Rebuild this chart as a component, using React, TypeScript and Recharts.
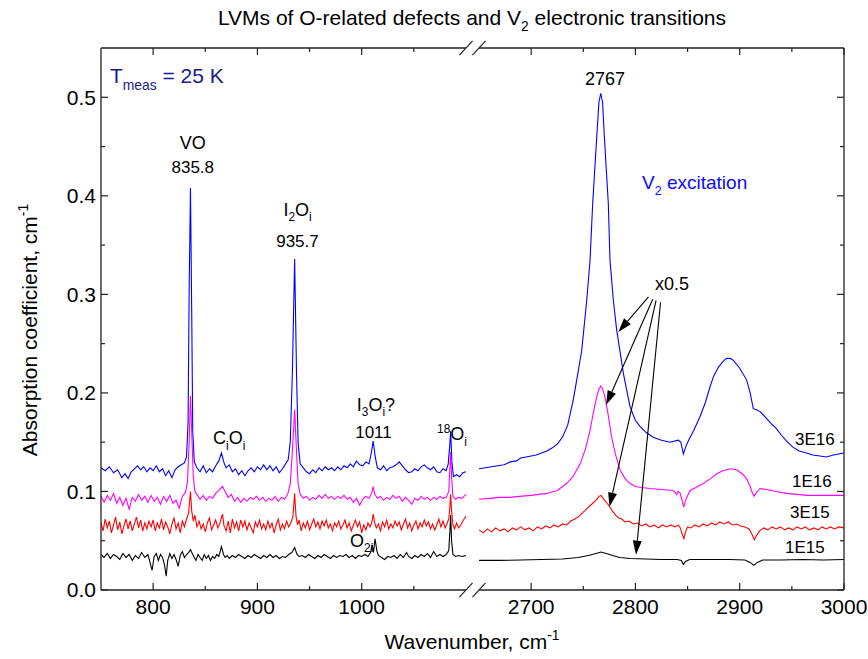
import React from 'react';
import { LineChart, Line, XAxis, YAxis, ReferenceLine, ReferenceDot, Customized } from 'recharts';

type P = [number, number];

// ---------------- tick values ----------------
const xMajorLeft = [800, 900, 1000];
const xMinorLeft = [850, 950, 1050];
const xMajorRight = [2700, 2800, 2900, 3000];
const xMinorRight = [2750, 2850, 2950];
const yMajor = [0, 0.1, 0.2, 0.3, 0.4, 0.5];
const yMinor = [0.05, 0.15, 0.25, 0.35, 0.45];

// ---------------- LVM region (750-1100 cm-1) ----------------
const left3E16: P[] = [
  [750, .124], [754, .121], [758, .125], [762, .119], [766, .122], [770, .114], [773, .118], [776, .113], [779, .12],
  [782, .123], [785, .126], [788, .122], [791, .125], [794, .12], [797, .124], [800, .121], [803, .126], [806, .12],
  [809, .123], [812, .116], [815, .121], [818, .114], [821, .122], [824, .125], [827, .127], [830, .129], [832, .135],
  [833.5, .17], [834.5, .3], [835.8, .408], [837, .28], [838, .16], [839.5, .13], [842, .124], [845, .12], [848, .126],
  [851, .119], [854, .123], [857, .12], [860, .126], [863, .131], [865.5, .139], [868, .129], [870, .124], [873, .127],
  [876, .12], [879, .123], [882, .117], [885, .121], [888, .116], [891, .121], [894, .124], [897, .12], [900, .125],
  [903, .122], [906, .127], [909, .122], [912, .126], [915, .121], [918, .125], [921, .119], [924, .123], [927, .128],
  [929.5, .132], [931.5, .15], [933.5, .22], [935.7, .336], [937.5, .22], [939, .15], [941, .128], [944, .124],
  [947, .12], [950, .118], [953, .122], [956, .119], [959, .124], [962, .121], [965, .125], [968, .122], [971, .124],
  [974, .121], [977, .125], [980, .122], [983, .126], [986, .124], [989, .128], [992, .125], [995, .131], [998, .127],
  [1001, .126], [1004, .13], [1007, .128], [1009, .138], [1011, .151], [1013, .135], [1015, .124], [1018, .122],
  [1021, .126], [1024, .121], [1027, .124], [1030, .125], [1033, .127], [1036, .13], [1039, .126], [1042, .122],
  [1045, .119], [1048, .12], [1051, .123], [1054, .121], [1057, .125], [1060, .127], [1063, .124], [1066, .122],
  [1069, .125], [1072, .12], [1075, .119], [1078, .123], [1081, .121], [1083, .128], [1084.3, .145], [1085.3, .161],
  [1086.5, .13], [1088, .115], [1091, .117], [1094, .115], [1097, .119], [1100, .12],
];

const left1E16: P[] = [
  [750, .095], [753, .089], [756, .096], [759, .091], [762, .098], [765, .088], [768, .094], [771, .086], [774, .093],
  [777, .082], [780, .094], [783, .09], [786, .097], [789, .091], [792, .095], [795, .089], [798, .096], [801, .09],
  [804, .094], [807, .087], [810, .095], [813, .09], [816, .096], [819, .088], [822, .091], [825, .083], [828, .095],
  [831, .099], [833, .11], [834.5, .15], [835.8, .197], [837, .16], [838.5, .115], [840, .1], [842, .097], [845, .092],
  [848, .096], [851, .091], [854, .095], [857, .093], [860, .098], [863, .101], [866.5, .105], [869, .1], [872, .094],
  [875, .097], [878, .09], [881, .094], [884, .089], [887, .093], [890, .09], [893, .094], [896, .092], [899, .095],
  [902, .091], [905, .094], [908, .09], [911, .093], [914, .091], [917, .095], [920, .09], [923, .094], [926, .092],
  [929, .097], [931.5, .108], [933.5, .14], [935.7, .183], [937.5, .14], [939, .108], [941, .097], [944, .093],
  [947, .095], [950, .091], [953, .094], [956, .092], [959, .096], [962, .093], [965, .097], [968, .093], [971, .095],
  [974, .092], [977, .095], [980, .093], [983, .096], [986, .092], [989, .094], [992, .089], [995, .093], [998, .086],
  [1001, .092], [1004, .095], [1007, .093], [1009.5, .098], [1011, .105], [1012.5, .097], [1015, .093], [1018, .095],
  [1021, .091], [1024, .094], [1027, .092], [1030, .096], [1033, .093], [1036, .095], [1039, .09], [1042, .094],
  [1045, .091], [1048, .087], [1051, .093], [1054, .091], [1057, .095], [1060, .092], [1063, .094], [1066, .091],
  [1069, .094], [1072, .092], [1075, .095], [1078, .093], [1081, .094], [1083.5, .1], [1084.6, .125], [1085.3, .14],
  [1086.2, .115], [1087.5, .095], [1090, .092], [1093, .094], [1096, .093], [1100, .097],
];

const left3E15: P[] = [
  [750, .068], [752, .06], [754, .072], [756, .063], [758, .07], [760, .058], [762, .066], [764, .074], [766, .061],
  [768, .069], [770, .057], [772, .065], [774, .072], [776, .062], [778, .07], [780, .06], [782, .067], [784, .074],
  [786, .063], [788, .071], [790, .06], [792, .068], [794, .062], [796, .07], [798, .064], [800, .071], [802, .06],
  [804, .068], [806, .063], [808, .072], [810, .061], [812, .069], [814, .064], [816, .057], [818, .067], [820, .073],
  [822, .062], [824, .068], [826, .058], [828, .07], [830, .064], [832, .072], [834, .078], [835.8, .1], [837, .08],
  [838.5, .07], [840, .076], [842, .064], [844, .07], [846, .062], [848, .067], [850, .059], [852, .068], [854, .073],
  [856, .061], [858, .066], [860, .071], [862, .063], [864, .068], [866.5, .077], [868, .065], [870, .06], [872, .07],
  [874, .058], [876, .072], [878, .063], [880, .069], [882, .06], [884, .071], [886, .064], [888, .07], [890, .061],
  [892, .068], [894, .063], [896, .058], [898, .069], [900, .064], [902, .071], [904, .062], [906, .067], [908, .061],
  [910, .07], [912, .063], [914, .068], [916, .058], [918, .066], [920, .072], [922, .061], [924, .067], [926, .062],
  [928, .07], [930, .064], [932, .068], [934, .074], [935.7, .098], [937, .075], [938.5, .066], [940, .071], [942, .06],
  [944, .068], [946, .063], [948, .07], [950, .061], [952, .067], [954, .072], [956, .064], [958, .069], [960, .062],
  [962, .07], [964, .065], [966, .071], [968, .063], [970, .067], [972, .06], [974, .068], [976, .064], [978, .07],
  [980, .062], [982, .066], [984, .071], [986, .063], [988, .068], [990, .06], [992, .066], [994, .071], [996, .064],
  [998, .069], [1000, .058], [1002, .066], [1004, .061], [1006, .068], [1008, .064], [1010, .07], [1011, .077],
  [1012.5, .068], [1014, .063], [1016, .067], [1018, .06], [1020, .069], [1022, .064], [1024, .071], [1026, .062],
  [1028, .067], [1030, .063], [1032, .07], [1034, .065], [1036, .069], [1038, .061], [1040, .067], [1042, .072],
  [1044, .063], [1046, .068], [1048, .06], [1050, .066], [1052, .07], [1054, .062], [1056, .068], [1058, .064],
  [1060, .071], [1062, .065], [1064, .069], [1066, .062], [1068, .067], [1070, .061], [1072, .066], [1074, .072],
  [1076, .064], [1078, .07], [1080, .063], [1082, .068], [1083.5, .072], [1084.6, .085], [1085.3, .097], [1086.2, .08],
  [1087.5, .066], [1089, .062], [1091, .068], [1093, .063], [1095, .066], [1097, .07], [1100, .075],
];

const left1E15: P[] = [
  [750, .036], [753, .033], [756, .037], [759, .032], [762, .036], [765, .034], [768, .031], [771, .037], [774, .033],
  [777, .036], [780, .03], [783, .035], [786, .032], [789, .038], [792, .033], [795, .036], [797, .028], [799, .02],
  [801, .034], [803, .037], [805, .03], [807, .036], [809, .033], [811, .025], [812.5, .014], [814, .03], [816, .037],
  [818, .032], [820, .036], [822, .031], [824, .024], [826, .035], [828, .039], [830, .033], [832, .036], [834, .038],
  [835.8, .041], [837.5, .037], [839, .034], [841, .03], [843, .036], [845, .033], [847, .03], [849, .036], [851, .032],
  [853, .035], [855, .03], [857, .034], [859, .032], [861, .036], [863, .034], [865.5, .044], [867.5, .036], [869, .033],
  [871, .035], [873, .032], [876, .035], [879, .033], [882, .036], [885, .034], [888, .032], [891, .035], [894, .033],
  [897, .036], [900, .034], [903, .032], [906, .035], [909, .033], [912, .036], [915, .033], [918, .035], [921, .032],
  [924, .034], [927, .033], [930, .036], [933, .038], [935.7, .043], [938, .036], [940, .034], [943, .035], [946, .033],
  [949, .036], [952, .034], [955, .032], [958, .035], [961, .033], [964, .036], [967, .034], [970, .032], [973, .035],
  [976, .033], [979, .035], [982, .034], [985, .036], [988, .033], [991, .035], [994, .032], [997, .035], [1000, .034],
  [1003, .036], [1006, .034], [1008.5, .038], [1010, .046], [1011.3, .038], [1012.8, .052], [1014.5, .04], [1016, .035],
  [1019, .033], [1022, .031], [1025, .034], [1028, .033], [1031, .035], [1034, .032], [1037, .036], [1040, .033],
  [1043, .038], [1045, .034], [1048, .032], [1051, .035], [1054, .033], [1057, .036], [1060, .034], [1063, .037],
  [1066, .033], [1069, .039], [1072, .034], [1075, .036], [1078, .034], [1081, .036], [1083.5, .04], [1084.6, .06],
  [1085.3, .076], [1086.2, .05], [1087.5, .036], [1090, .034], [1093, .035], [1096, .034], [1100, .035],
];

// ---------------- V2 region (2650-3000 cm-1), 3E16/1E16 scaled x0.5 ----------------
const right3E16: P[] = [
  [2650, .123], [2656, .124], [2662, .125], [2668, .126], [2674, .127], [2680, .13], [2686, .131], [2690, .134],
  [2695, .135], [2700, .136], [2705, .137], [2710, .139], [2715, .141], [2720, .144], [2725, .148], [2730, .155],
  [2735, .167], [2740.4, .193], [2744, .215], [2748.5, .243], [2753.3, .294], [2756.5, .335], [2759, .392],
  [2762.9, .46], [2765, .495], [2766.7, .504], [2768.5, .495], [2770.2, .46], [2774, .392], [2775.6, .335],
  [2778.8, .294], [2782, .264], [2788.4, .22], [2794.8, .186], [2800, .172], [2804.4, .166], [2810, .16],
  [2817, .155], [2825, .152], [2833, .15], [2841, .152], [2843.5, .15], [2846, .138], [2848.5, .146], [2851, .152],
  [2856, .162], [2862, .176], [2867, .19], [2871.5, .206], [2875, .217], [2879.5, .226], [2884, .232], [2887.5, .235],
  [2891, .235], [2894, .233], [2900, .225], [2906.7, .213], [2910, .2], [2913, .184], [2916, .183], [2919.5, .181],
  [2925, .175], [2930, .169], [2935, .164], [2940, .157], [2945, .151], [2951, .145], [2957, .141], [2964, .139],
  [2970, .137], [2977, .136], [2983, .135], [2990, .137], [2995, .138], [3000, .139],
];

const right1E16: P[] = [
  [2650, .092], [2660, .093], [2670, .094], [2680, .094], [2689, .095], [2700, .096], [2715, .098], [2725, .101],
  [2734, .108], [2740, .115], [2747, .128], [2752, .143], [2756.5, .162], [2760, .182], [2762.9, .196], [2765, .204],
  [2766.7, .207], [2768.5, .204], [2770.8, .196], [2774, .177], [2777.2, .155], [2781, .137], [2785.2, .122],
  [2790, .113], [2794.8, .108], [2800, .105], [2806, .104], [2814, .103], [2825, .102], [2836, .101], [2838, .099],
  [2839.6, .097], [2841, .1], [2843, .098], [2845, .09], [2846.3, .084], [2848, .091], [2852.3, .101], [2858, .104],
  [2865, .108], [2872, .113], [2878, .118], [2884, .121], [2890.7, .123], [2897, .122], [2903.5, .117], [2907, .112],
  [2910, .105], [2912, .099], [2913.7, .095], [2915.5, .098], [2919.5, .103], [2925, .102], [2935, .1], [2945, .098],
  [2955, .097], [2965, .096], [2975, .096], [2985, .096], [3000, .096],
];

const right3E15: P[] = [
  [2650, .061], [2654, .058], [2658, .062], [2662, .059], [2666, .063], [2670, .06], [2674, .062], [2678, .059],
  [2682, .063], [2686, .061], [2690, .064], [2694, .061], [2698, .063], [2702, .06], [2706, .064], [2710, .062],
  [2714, .065], [2718, .063], [2722, .066], [2726, .064], [2730, .067], [2734, .066], [2738, .07], [2742, .072],
  [2746, .075], [2750, .079], [2754, .083], [2758, .087], [2762, .091], [2765, .095], [2767, .096], [2769, .093],
  [2772, .089], [2775, .085], [2778, .08], [2781, .076], [2784, .073], [2787, .072], [2790, .069], [2794, .07],
  [2798, .067], [2802, .068], [2806, .065], [2810, .067], [2814, .064], [2818, .066], [2822, .063], [2826, .066],
  [2830, .064], [2834, .066], [2838, .064], [2841, .066], [2843, .063], [2845, .056], [2846.5, .052], [2848, .059],
  [2850, .064], [2853, .063], [2857, .066], [2861, .064], [2865, .067], [2869, .065], [2873, .068], [2877, .066],
  [2881, .069], [2885, .067], [2889, .069], [2893, .066], [2897, .067], [2901, .065], [2905, .064], [2909, .062],
  [2912, .056], [2914, .051], [2916, .055], [2919, .06], [2923, .063], [2927, .061], [2931, .064], [2935, .062],
  [2939, .064], [2943, .061], [2947, .063], [2951, .061], [2955, .064], [2959, .062], [2963, .064], [2967, .061],
  [2971, .063], [2975, .061], [2979, .064], [2983, .062], [2987, .064], [2991, .062], [2995, .064], [3000, .063],
];

const right1E15: P[] = [
  [2650, .03], [2670, .03], [2690, .0305], [2710, .031], [2730, .0315], [2745, .033], [2755, .035], [2762, .037],
  [2767, .0385], [2772, .037], [2778, .035], [2785, .033], [2795, .032], [2810, .0315], [2825, .031], [2840, .031],
  [2844, .03], [2846, .026], [2848, .029], [2852, .031], [2870, .031], [2890, .031], [2905, .0305], [2910, .028],
  [2913.5, .025], [2917, .028], [2922, .0305], [2940, .0305], [2960, .031], [2980, .0305], [3000, .031],
];

const seriesColors = { s3E16: '#0000ff', s1E16: '#ff00ff', s3E15: '#ff0000', s1E15: '#000000' };

const FONT = '"Liberation Sans", Arial, Helvetica, sans-serif';
const AXIS_FONT = 21;
const W = 868;
const H = 659;
const LEFT_DOMAIN: [number, number] = [750, 1462.5];
const RIGHT_DOMAIN: [number, number] = [2287.5, 3000];
const Y_DOMAIN: [number, number] = [0, 0.55];
const THIN = 0.01;

const pts = (a: P[]) => a.map(([x, y]) => ({ x, y }));

type Run = { t: string; s?: 'sub' | 'sup' };
function rich(runs: Run[], size: number) {
  let cur = 0;
  return runs.map((r, i) => {
    const target = r.s === 'sub' ? size * 0.3 : r.s === 'sup' ? -size * 0.42 : 0;
    const dy = target - cur;
    cur = target;
    return (
      <tspan key={i} dy={dy} fontSize={r.s ? size * 0.66 : size}>
        {r.t}
      </tspan>
    );
  });
}

const isIn = (arr: number[], v: number) => arr.some((a) => Math.abs(a - v) < 1e-9);

const BottomTick = (props: any) => {
  const { x, y, payload, majors } = props;
  const major = isIn(majors || [], payload.value);
  return (
    <g>
      <line x1={x} y1={y} x2={x} y2={y - (major ? 7 : 4)} stroke="#222" strokeWidth={1.2} />
      {major && (
        <text x={x} y={y + 24} textAnchor="middle" fontSize={AXIS_FONT} fontFamily={FONT} fill="#000">
          {payload.value}
        </text>
      )}
    </g>
  );
};

const TopTick = (props: any) => {
  const { x, y, payload, majors } = props;
  const major = isIn(majors || [], payload.value);
  return <line x1={x} y1={y} x2={x} y2={y + (major ? 7 : 4)} stroke="#222" strokeWidth={1.2} />;
};

const LeftTick = (props: any) => {
  const { x, y, payload } = props;
  const major = isIn(yMajor, payload.value);
  return (
    <g>
      <line x1={x} y1={y} x2={x + (major ? 7 : 4)} y2={y} stroke="#222" strokeWidth={1.2} />
      {major && (
        <text x={x - 5} y={y + 7.5} textAnchor="end" fontSize={AXIS_FONT} fontFamily={FONT} fill="#000">
          {payload.value.toFixed(1)}
        </text>
      )}
    </g>
  );
};

const RightTick = (props: any) => {
  const { x, y, payload } = props;
  const major = isIn(yMajor, payload.value);
  return <line x1={x} y1={y} x2={x - (major ? 7 : 4)} y2={y} stroke="#222" strokeWidth={1.2} />;
};

const Titles = () => (
  <g fontFamily={FONT} fill="#000">
    <text x={472} y={25} textAnchor="middle" fontSize={AXIS_FONT}>
      {rich([{ t: 'LVMs of O-related defects and V' }, { t: '2', s: 'sub' }, { t: ' electronic transitions' }], AXIS_FONT)}
    </text>
    <text x={472} y={649} textAnchor="middle" fontSize={AXIS_FONT}>
      {rich([{ t: 'Wavenumber, cm' }, { t: '-1', s: 'sup' }], AXIS_FONT)}
    </text>
    <text x={0} y={0} textAnchor="middle" fontSize={AXIS_FONT} transform="translate(37,330) rotate(-90)">
      {rich([{ t: 'Absorption coefficient, cm' }, { t: '-1', s: 'sup' }], AXIS_FONT)}
    </text>
  </g>
);

type Note = { axis: 'L' | 'R'; x: number; y: number; runs: Run[]; size: number; anchor: string; color: string };
const notes: Note[] = [
  { axis: 'L', x: 758.6, y: 0.514, runs: [{ t: 'T' }, { t: 'meas', s: 'sub' }, { t: ' = 25 K' }], size: 21, anchor: 'start', color: '#1a1a8a' },
  { axis: 'L', x: 838, y: 0.448, runs: [{ t: 'VO' }], size: 18, anchor: 'middle', color: '#000' },
  { axis: 'L', x: 838, y: 0.423, runs: [{ t: '835.8' }], size: 17, anchor: 'middle', color: '#000' },
  { axis: 'L', x: 938.5, y: 0.38, runs: [{ t: 'I' }, { t: '2', s: 'sub' }, { t: 'O' }, { t: 'i', s: 'sub' }], size: 18, anchor: 'middle', color: '#000' },
  { axis: 'L', x: 938.4, y: 0.348, runs: [{ t: '935.7' }], size: 17, anchor: 'middle', color: '#000' },
  { axis: 'L', x: 873, y: 0.148, runs: [{ t: 'C' }, { t: 'i', s: 'sub' }, { t: 'O' }, { t: 'i', s: 'sub' }], size: 18, anchor: 'middle', color: '#000' },
  { axis: 'L', x: 1013.7, y: 0.182, runs: [{ t: 'I' }, { t: '3', s: 'sub' }, { t: 'O' }, { t: 'i', s: 'sub' }, { t: '?' }], size: 18, anchor: 'middle', color: '#000' },
  { axis: 'L', x: 1011.3, y: 0.154, runs: [{ t: '1011' }], size: 17, anchor: 'middle', color: '#000' },
  { axis: 'L', x: 1086.6, y: 0.152, runs: [{ t: '18', s: 'sup' }, { t: 'O' }, { t: 'i', s: 'sub' }], size: 18, anchor: 'middle', color: '#000' },
  { axis: 'L', x: 988.8, y: 0.0436, runs: [{ t: 'O' }, { t: '2i', s: 'sub' }], size: 18, anchor: 'start', color: '#000' },
  { axis: 'R', x: 2770.8, y: 0.512, runs: [{ t: '2767' }], size: 18, anchor: 'middle', color: '#000' },
  { axis: 'R', x: 2806.3, y: 0.4067, runs: [{ t: 'V' }, { t: '2', s: 'sub' }, { t: ' excitation' }], size: 19, anchor: 'start', color: '#0a0aff' },
  { axis: 'R', x: 2818.8, y: 0.304, runs: [{ t: 'x0.5' }], size: 18, anchor: 'start', color: '#000' },
  { axis: 'R', x: 2953, y: 0.147, runs: [{ t: '3E16' }], size: 17, anchor: 'start', color: '#000' },
  { axis: 'R', x: 2950.1, y: 0.1045, runs: [{ t: '1E16' }], size: 17, anchor: 'start', color: '#000' },
  { axis: 'R', x: 2948.2, y: 0.073, runs: [{ t: '3E15' }], size: 17, anchor: 'start', color: '#000' },
  { axis: 'R', x: 2943.4, y: 0.0375, runs: [{ t: '1E15' }], size: 17, anchor: 'start', color: '#000' },
];

const arrows: { from: [number, number]; to: [number, number] }[] = [
  { from: [2812.5, 0.2975], to: [2783.6, 0.2619] },
  { from: [2816.6, 0.295], to: [2771.9, 0.188] },
  { from: [2819.8, 0.294], to: [2775.1, 0.0845] },
  { from: [2824.1, 0.292], to: [2800.5, 0.0358] },
];

const ArrowShape = (p: any) => {
  const { x1, y1, x2, y2 } = p;
  const dx = x2 - x1;
  const dy = y2 - y1;
  const len = Math.hypot(dx, dy) || 1;
  const ux = dx / len;
  const uy = dy / len;
  const hl = 14;
  const hw = 4.5;
  const bx = x2 - ux * hl;
  const by = y2 - uy * hl;
  return (
    <g>
      <line x1={x1} y1={y1} x2={bx} y2={by} stroke="#000" strokeWidth={1.1} />
      <polygon points={`${x2},${y2} ${bx - uy * hw},${by + ux * hw} ${bx + uy * hw},${by - ux * hw}`} fill="#000" />
    </g>
  );
};

const frame = { stroke: '#222', strokeWidth: 1.3 };
const SL_X = 6.3;
const SL_Y = 0.0072;

export default function App() {
  const series: { id: 'L' | 'R'; data: P[]; color: string }[] = [
    { id: 'L', data: left3E16, color: seriesColors.s3E16 },
    { id: 'L', data: left1E16, color: seriesColors.s1E16 },
    { id: 'L', data: left3E15, color: seriesColors.s3E15 },
    { id: 'L', data: left1E15, color: seriesColors.s1E15 },
    { id: 'R', data: right3E16, color: seriesColors.s3E16 },
    { id: 'R', data: right1E16, color: seriesColors.s1E16 },
    { id: 'R', data: right3E15, color: seriesColors.s3E15 },
    { id: 'R', data: right1E15, color: seriesColors.s1E15 },
  ];
  const breaks: { id: 'L' | 'R'; x: number }[] = [
    { id: 'L', x: 1100 },
    { id: 'R', x: 2650 },
  ];
  const xTicksL = [...xMajorLeft, ...xMinorLeft].sort((a, b) => a - b);
  const xTicksR = [...xMajorRight, ...xMinorRight].sort((a, b) => a - b);
  const yTicks = [...yMajor, ...yMinor].sort((a, b) => a - b);
  return (
    <div style={{ position: 'absolute', left: 0, top: 0, width: W, height: H, background: '#fff' }}>
      <LineChart width={W} height={H} margin={{ top: 48, right: 24, bottom: 69, left: 41 }}>
        <XAxis xAxisId="L" type="number" dataKey="x" domain={LEFT_DOMAIN} allowDataOverflow
          ticks={xTicksL} interval={0} height={THIN}
          tickSize={0} tickMargin={0} axisLine={false} tickLine={false} tick={<BottomTick majors={xMajorLeft} />} />
        <XAxis xAxisId="R" type="number" dataKey="x" domain={RIGHT_DOMAIN} allowDataOverflow
          ticks={xTicksR} interval={0} height={THIN}
          tickSize={0} tickMargin={0} axisLine={false} tickLine={false} tick={<BottomTick majors={xMajorRight} />} />
        <XAxis xAxisId="LT" orientation="top" type="number" dataKey="x" domain={LEFT_DOMAIN} allowDataOverflow
          ticks={xTicksL} interval={0} height={THIN}
          tickSize={0} tickMargin={0} axisLine={false} tickLine={false} tick={<TopTick majors={xMajorLeft} />} />
        <XAxis xAxisId="RT" orientation="top" type="number" dataKey="x" domain={RIGHT_DOMAIN} allowDataOverflow
          ticks={xTicksR} interval={0} height={THIN}
          tickSize={0} tickMargin={0} axisLine={false} tickLine={false} tick={<TopTick majors={xMajorRight} />} />
        <YAxis yAxisId="y" type="number" domain={Y_DOMAIN} allowDataOverflow width={60}
          ticks={yTicks} interval={0} tickSize={0} tickMargin={0}
          tickLine={false} axisLine={frame} tick={<LeftTick />} />
        <YAxis yAxisId="yr" orientation="right" type="number" domain={Y_DOMAIN} allowDataOverflow width={THIN}
          ticks={yTicks} interval={0} tickSize={0} tickMargin={0}
          tickLine={false} axisLine={frame} tick={<RightTick />} />

        {series.map((s, i) => (
          <Line key={i} xAxisId={s.id} yAxisId="y" data={pts(s.data)} dataKey="y" type="linear"
            stroke={s.color} strokeWidth={1.1} dot={false} activeDot={false} isAnimationActive={false} />
        ))}

        {[0, 0.55].map((yv) => (
          <React.Fragment key={yv}>
            <ReferenceLine xAxisId="L" yAxisId="y" ifOverflow="visible" segment={[{ x: 750, y: yv }, { x: 1100, y: yv }]} {...frame} />
            <ReferenceLine xAxisId="R" yAxisId="y" ifOverflow="visible" segment={[{ x: 2650, y: yv }, { x: 3000, y: yv }]} {...frame} />
            {breaks.map((b) => (
              <ReferenceLine key={b.id} xAxisId={b.id} yAxisId="y" ifOverflow="visible"
                segment={[{ x: b.x - SL_X, y: yv - SL_Y }, { x: b.x + SL_X, y: yv + SL_Y }]} stroke="#222" strokeWidth={1.2} />
            ))}
          </React.Fragment>
        ))}

        {arrows.map((a, i) => (
          <ReferenceLine key={'ar' + i} xAxisId="R" yAxisId="y" ifOverflow="visible"
            segment={[{ x: a.from[0], y: a.from[1] }, { x: a.to[0], y: a.to[1] }]} shape={ArrowShape} />
        ))}

        {notes.map((n, i) => (
          <ReferenceDot key={'n' + i} xAxisId={n.axis} yAxisId="y" x={n.x} y={n.y} r={0} ifOverflow="visible"
            shape={(p: any) => (
              <text x={p.cx} y={p.cy} textAnchor={n.anchor as any} fontSize={n.size} fontFamily={FONT} fill={n.color}>
                {rich(n.runs, n.size)}
              </text>
            )} />
        ))}

        <Customized component={<Titles />} />
      </LineChart>
    </div>
  );
}
